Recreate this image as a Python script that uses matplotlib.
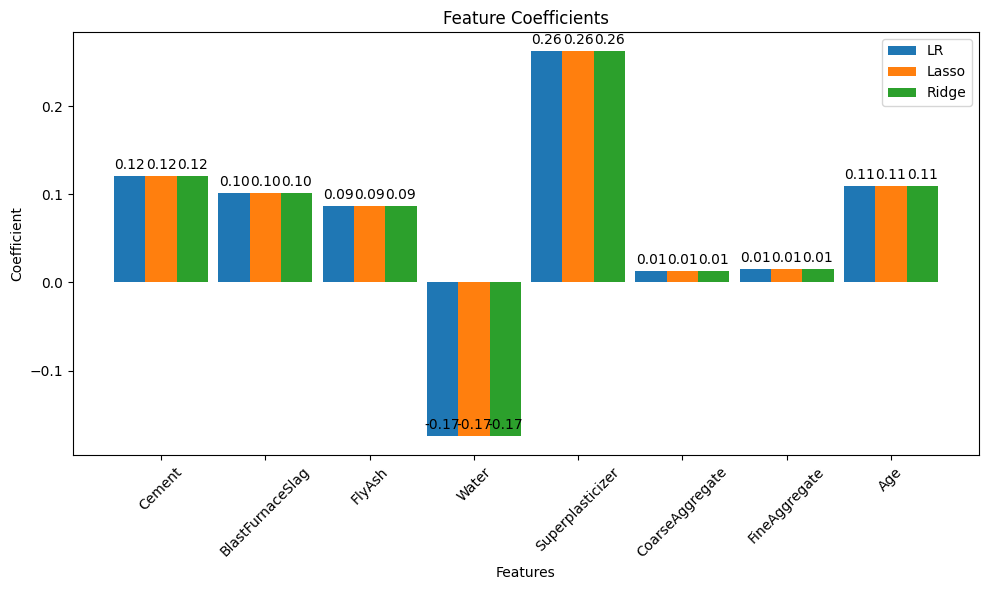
import matplotlib
matplotlib.use('Agg')
import matplotlib.pyplot as plt
import numpy as np

# 特徴量と各モデルの係数
features = ['Cement', 'BlastFurnaceSlag', 'FlyAsh', 'Water', 'Superplasticizer',
            'CoarseAggregate', 'FineAggregate', 'Age']
lr_coef = [0.1205, 0.101, 0.0864, -0.174, 0.2625, 0.0125, 0.0148, 0.109]
lasso_coef = [0.1205, 0.101, 0.0864, -0.174, 0.2625, 0.0125, 0.0148, 0.109]
ridge_coef = [0.1205, 0.101, 0.0864, -0.174, 0.2625, 0.0125, 0.0148, 0.109]

x = np.arange(len(features))
width = 0.3

fig, ax = plt.subplots(figsize=(9.89, 5.9), dpi=100)
bars1 = ax.bar(x - width, lr_coef, width, label='LR')
bars2 = ax.bar(x, lasso_coef, width, label='Lasso')
bars3 = ax.bar(x + width, ridge_coef, width, label='Ridge')

# 値ラベル
for bars in [bars1, bars2, bars3]:
    for b in bars:
        h = b.get_height()
        ax.annotate(f'{h:.2f}', xy=(b.get_x() + b.get_width() / 2, h),
                    xytext=(0, 3), textcoords='offset points',
                    ha='center', va='bottom')

ax.set_xlabel('Features')
ax.set_ylabel('Coefficient')
ax.set_title('Feature Coefficients')
ax.set_xticks(x)
ax.set_xticklabels(features, rotation=45)
ax.legend()

plt.subplots_adjust(left=0.0738, right=0.9899, top=0.9458, bottom=0.2288)
plt.savefig('out.png', dpi=100)
